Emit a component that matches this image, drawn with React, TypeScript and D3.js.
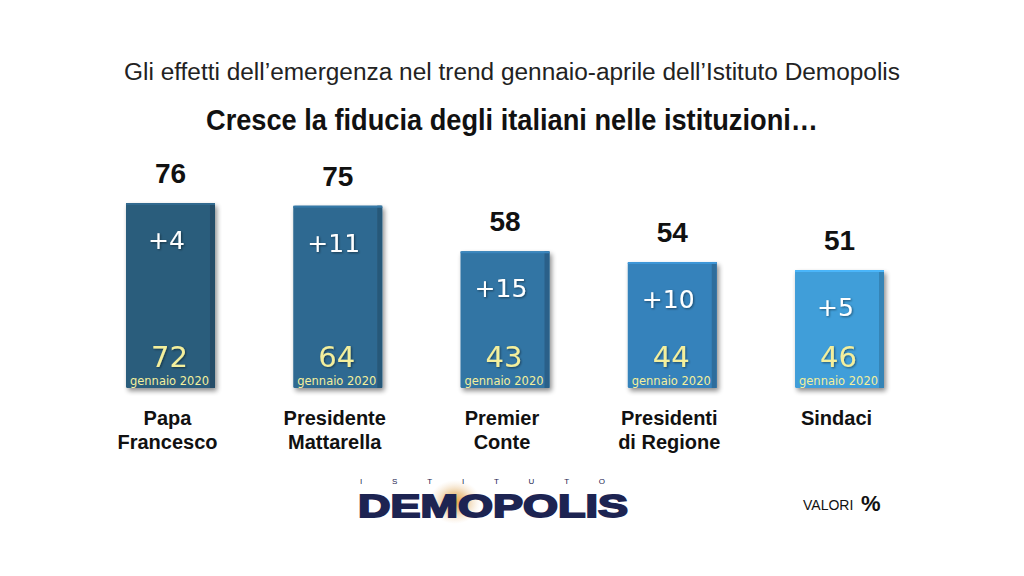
import React from "react";
import * as d3 from "d3";

const categories = [["Papa", "Francesco"], ["Presidente", "Mattarella"], ["Premier", "Conte"], ["Presidenti", "di Regione"], ["Sindaci"]];
const aprile = [76, 75, 58, 54, 51];
const gennaio = [72, 64, 43, 44, 46];
const barColors = ["#2c5d7c", "#2f6991", "#3274a4", "#3682bb", "#419ed9"];
const sinceLabel = "gennaio 2020";

const W = 1024, H = 576;
const baseY = 388;

export default function App() {
  const x = d3.scaleBand<number>().domain(d3.range(aprile.length)).range([126, 884]).paddingInner(0.468).paddingOuter(0);
  const y = d3.scaleLinear().domain([7, 76]).range([baseY, 203]);
  const bw = x.bandwidth();
  return (
    <svg width={W} height={H} viewBox={`0 0 ${W} ${H}`} style={{ position: "absolute", left: 0, top: 0, background: "#fff" }}>
      <defs>
        <filter id="sh" x="-20%" y="-20%" width="150%" height="150%">
          <feGaussianBlur in="SourceAlpha" stdDeviation="2.5" />
          <feOffset dx="2" dy="3" result="b" />
          <feComponentTransfer><feFuncA type="linear" slope="0.45" /></feComponentTransfer>
          <feMerge><feMergeNode /><feMergeNode in="SourceGraphic" /></feMerge>
        </filter>
        <filter id="ts"><feDropShadow dx="1" dy="1" stdDeviation="1" floodColor="#000" floodOpacity="0.45" /></filter>
        <radialGradient id="glow">
          <stop offset="0%" stopColor="#e8a23c" stopOpacity="1" />
          <stop offset="45%" stopColor="#e6b977" stopOpacity="0.7" />
          <stop offset="100%" stopColor="#f3dcc0" stopOpacity="0" />
        </radialGradient>
      </defs>
      <text x={512} y={80} textAnchor="middle" fontFamily="'Liberation Sans Narrow', 'Liberation Sans', Arial" fontWeight={300} fontSize={23} fill="#222" textLength={776} lengthAdjust="spacingAndGlyphs">Gli effetti dell’emergenza nel trend gennaio-aprile dell’Istituto Demopolis</text>
      <text x={512} y={130} textAnchor="middle" fontFamily="'Liberation Sans Narrow', 'Liberation Sans', Arial" fontWeight={700} fontSize={30} fill="#111" textLength={612} lengthAdjust="spacingAndGlyphs">Cresce la fiducia degli italiani nelle istituzioni…</text>
      {aprile.map((v, i) => {
        const x0 = x(i)!;
        const top = y(v);
        const cx = x0 + bw / 2;
        const col = barColors[i];
        return (
          <g key={i}>
            <g filter="url(#sh)">
              <rect x={x0} y={top} width={bw} height={baseY - top} fill={col} rx={1.5} />
              <rect x={x0 + bw - 5} y={top} width={5} height={baseY - top} fill={d3.color(col)!.darker(0.5).toString()} />
              <rect x={x0} y={top} width={bw} height={2} fill={d3.color(col)!.brighter(0.4).toString()} />
            </g>
            <text x={cx} y={top - 20} textAnchor="middle" fontFamily="'Liberation Sans', Arial" fontWeight={700} fontSize={28} fill="#111">{v}</text>
            <text x={cx - 4} y={top + 46} textAnchor="middle" fontFamily="'DejaVu Sans', sans-serif" fontSize={25} fill="#fff" filter="url(#ts)">{`+${v - gennaio[i]}`}</text>
            <text x={cx - 1} y={baseY - 21} textAnchor="middle" fontFamily="'DejaVu Sans', sans-serif" fontSize={29} fill="#f4ef9c" filter="url(#ts)">{gennaio[i]}</text>
            <text x={cx - 1} y={baseY - 3} textAnchor="middle" fontFamily="'DejaVu Sans', sans-serif" fontSize={12} fill="#f4ef9c" textLength={bw - 10} lengthAdjust="spacingAndGlyphs">{sinceLabel}</text>
            {categories[i].map((line, j) => (
              <text key={j} x={cx - 3} y={425 + j * 24} textAnchor="middle" fontFamily="'Liberation Sans', Arial" fontWeight={700} fontSize={20} fill="#111">{line}</text>
            ))}
          </g>
        );
      })}
      <ellipse cx={455} cy={502} rx={26} ry={22} fill="url(#glow)" />
      <text x={360} y={484} fontFamily="'Liberation Sans', Arial" fontSize={8} fill="#1c2350" textLength={245} lengthAdjust="spacing">ISTITUTO</text>
      <text x={358} y={517} fontFamily="'Liberation Sans', Arial" fontWeight={900} fontSize={32} fill="#1d2452" textLength={270} lengthAdjust="spacingAndGlyphs" stroke="#1d2452" strokeWidth={1.8}>DEMOPOLIS</text>
      <text x={803} y={510} fontFamily="'Liberation Sans Narrow', 'Liberation Sans', Arial" fontSize={14} fill="#111">VALORI</text>
      <text x={861} y={511} fontFamily="'Liberation Sans', Arial" fontWeight={700} fontSize={22} fill="#111">%</text>
    </svg>
  );
}
